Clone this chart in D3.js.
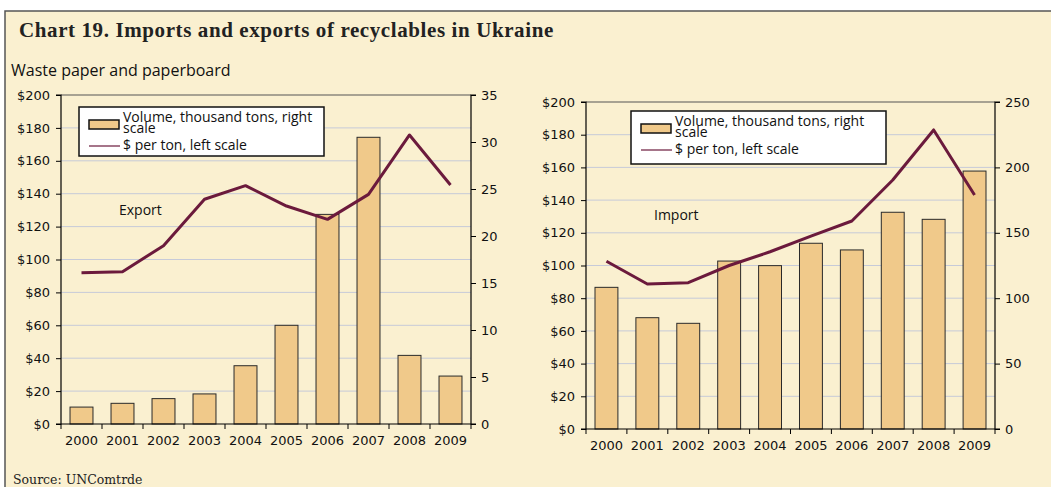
<!DOCTYPE html>
<html>
<head>
<meta charset="utf-8">
<script src="https://cdn.jsdelivr.net/npm/d3@7"></script>
<style>
  body { margin: 0; background: #ffffff; }
  svg { display: block; }
</style>
</head>
<body>
<div id="chart"></div>
<script>
// data
var years = ["2000", "2001", "2002", "2003", "2004", "2005", "2006", "2007", "2008", "2009"];

// export: volume (thousand tons, right scale) and $ per ton (left scale)
var exportVolume = [1.8, 2.2, 2.7, 3.2, 6.2, 10.5, 22.3, 30.5, 7.3, 5.1];
var exportPrice = [92, 92.6, 108.4, 136.6, 144.9, 132.5, 124.4, 139.6, 175.7, 145.3];

// import
var importVolume = [108.3, 85.1, 80.8, 128.4, 124.9, 142, 136.9, 165.7, 160.3, 197.2];
var importPrice = [102.6, 88.7, 89.5, 100, 108.4, 118, 127.2, 152.3, 182.9, 143.1];

var leftTicks = [0, 20, 40, 60, 80, 100, 120, 140, 160, 180, 200];
var exportRightTicks = [0, 5, 10, 15, 20, 25, 30, 35];
var importRightTicks = [0, 50, 100, 150, 200, 250];

var legendLabels = ["Volume, thousand tons, right", "scale", "$ per ton, left scale"];

var svgWidth = 1051;
var svgHeight = 487;

var bg = "#faf0d0";
var barFill = "#f0c98a";
var lineColor = "#6b1a3c";
var gridColor = "#c6cad8";
var tickFont = "DejaVu Sans, sans-serif";
var legendFont = "Open Sans, sans-serif";

var svg = d3.select("#chart").append("svg")
    .attr("width", svgWidth)
    .attr("height", svgHeight);

// cream panel with frame on top and left
svg.append("rect")
    .attr("x", 5).attr("y", 11)
    .attr("width", svgWidth).attr("height", svgHeight)
    .attr("fill", bg);
svg.append("path")
    .attr("d", "M5," + svgHeight + "V11H" + svgWidth)
    .attr("fill", "none")
    .attr("stroke", "#555")
    .attr("stroke-width", 1.5);

// titles
svg.append("text")
    .attr("x", 19).attr("y", 37)
    .attr("font-family", "Liberation Serif, serif")
    .attr("font-weight", "bold")
    .attr("font-size", 21)
    .attr("letter-spacing", 0.6)
    .attr("fill", "#222")
    .text("Chart 19. Imports and exports of recyclables in Ukraine");

svg.append("text")
    .attr("x", 11).attr("y", 76)
    .attr("font-family", "Open Sans, sans-serif")
    .attr("font-size", 16)
    .attr("fill", "#111")
    .text("Waste paper and paperboard");

svg.append("text")
    .attr("x", 13).attr("y", 484)
    .attr("font-family", "DejaVu Serif, serif")
    .attr("font-size", 12.5)
    .attr("fill", "#222")
    .text("Source: UNComtrde");

function drawPanel(p) {
    var g = svg.append("g");

    var x = d3.scaleBand()
        .domain(years)
        .range([p.left, p.right])
        .paddingInner(0.44)
        .paddingOuter(0.22);

    var yLeft = d3.scaleLinear().domain([0, 200]).range([p.bottom, p.top]);
    var yRight = d3.scaleLinear().domain([0, p.rightMax]).range([p.bottom, p.top]);

    // gridlines
    g.selectAll(".grid")
        .data(leftTicks.filter(function(d) { return d > 0; }))
        .enter()
        .append("line")
        .attr("x1", p.left).attr("x2", p.right)
        .attr("y1", function(d) { return yLeft(d); })
        .attr("y2", function(d) { return yLeft(d); })
        .attr("stroke", function(d) { return d === 200 ? "#555" : gridColor; })
        .attr("stroke-width", 1);

    // bars
    g.selectAll(".bar")
        .data(p.volume)
        .enter()
        .append("rect")
        .attr("x", function(d, i) { return x(years[i]); })
        .attr("y", function(d) { return yRight(d); })
        .attr("width", x.bandwidth())
        .attr("height", function(d) { return p.bottom - yRight(d); })
        .attr("fill", barFill)
        .attr("stroke", "#2a2a2a")
        .attr("stroke-width", 1);

    // price line
    var line = d3.line()
        .x(function(d, i) { return x(years[i]) + x.bandwidth() / 2; })
        .y(function(d) { return yLeft(d); });

    g.append("path")
        .datum(p.price)
        .attr("d", line)
        .attr("fill", "none")
        .attr("stroke", lineColor)
        .attr("stroke-width", 3)
        .attr("stroke-linejoin", "round");

    // left axis
    var leftAxis = g.append("g")
        .attr("transform", "translate(" + p.left + ",0)")
        .call(d3.axisLeft(yLeft).tickValues(leftTicks).tickSize(5).tickPadding(6)
            .tickFormat(function(d) { return "$" + d; }));

    // right axis
    var rightAxis = g.append("g")
        .attr("transform", "translate(" + p.right + ",0)")
        .call(d3.axisRight(yRight).tickValues(p.rightTicks).tickSize(5).tickPadding(5));

    // bottom axis: ticks between categories
    var xAxis = g.append("g")
        .attr("transform", "translate(0," + p.bottom + ")")
        .call(d3.axisBottom(x).tickSize(0).tickPadding(12));

    g.selectAll(".xtick")
        .data(d3.range(years.length + 1))
        .enter()
        .append("line")
        .attr("x1", function(i) { return p.left + i * (p.right - p.left) / years.length; })
        .attr("x2", function(i) { return p.left + i * (p.right - p.left) / years.length; })
        .attr("y1", p.bottom)
        .attr("y2", p.bottom + 5)
        .attr("stroke", "#000");

    [leftAxis, rightAxis, xAxis].forEach(function(a) {
        a.select(".domain").attr("stroke", "#000").attr("stroke-width", 1.2);
        a.selectAll(".tick line").attr("stroke", "#000");
        a.selectAll("text")
            .attr("font-family", tickFont)
            .attr("font-size", 13)
            .attr("fill", "#111");
    });
    xAxis.select(".domain").attr("d", "M" + p.left + ",0H" + p.right);
    leftAxis.select(".domain").attr("d", "M-5," + p.bottom + "H0V" + p.top + "H-5");
    rightAxis.select(".domain").attr("d", "M5," + p.bottom + "H0V" + p.top + "H5");

    // label inside plot
    g.append("text")
        .attr("x", p.labelX).attr("y", p.labelY)
        .attr("font-family", legendFont)
        .attr("font-size", 14)
        .attr("fill", "#111")
        .text(p.label);

    // legend
    var lg = g.append("g").attr("transform", "translate(" + p.legendX + "," + p.legendY + ")");
    lg.append("rect")
        .attr("width", p.legendW).attr("height", p.legendH)
        .attr("fill", "#fff")
        .attr("stroke", "#111")
        .attr("stroke-width", 1.5);
    lg.append("rect")
        .attr("x", 10).attr("y", 13)
        .attr("width", 30).attr("height", 9)
        .attr("fill", barFill)
        .attr("stroke", "#111")
        .attr("stroke-width", 1.5);
    lg.append("line")
        .attr("x1", 10).attr("x2", 41)
        .attr("y1", 39).attr("y2", 39)
        .attr("stroke", lineColor)
        .attr("stroke-opacity", 0.8)
        .attr("stroke-width", 1.5);
    lg.selectAll(".ltext")
        .data(legendLabels)
        .enter()
        .append("text")
        .attr("x", 44)
        .attr("y", function(d, i) { return [15, 26, 43][i]; })
        .attr("font-family", legendFont)
        .attr("font-size", 14)
        .attr("fill", "#111")
        .text(function(d) { return d; });
}

drawPanel({
    left: 61, right: 471, top: 95, bottom: 424,
    rightMax: 35, rightTicks: exportRightTicks,
    volume: exportVolume, price: exportPrice,
    label: "Export", labelX: 119, labelY: 215,
    legendX: 79, legendY: 107, legendW: 245, legendH: 49
});

drawPanel({
    left: 586, right: 995, top: 102, bottom: 429,
    rightMax: 250, rightTicks: importRightTicks,
    volume: importVolume, price: importPrice,
    label: "Import", labelX: 654, labelY: 220,
    legendX: 631, legendY: 111, legendW: 255, legendH: 53
});
</script>
</body>
</html>
